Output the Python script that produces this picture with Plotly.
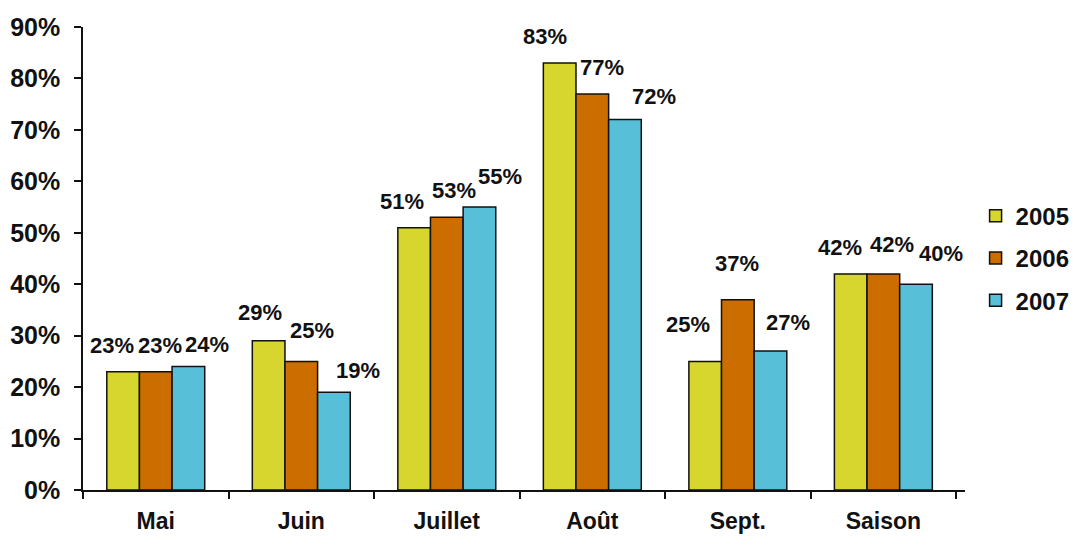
import plotly.graph_objects as go

categories = ["Mai", "Juin", "Juillet", "Août", "Sept.", "Saison"]
years = ["2005", "2006", "2007"]
v2005 = [23, 29, 51, 83, 25, 42]
v2006 = [23, 25, 53, 77, 37, 42]
v2007 = [24, 19, 55, 72, 27, 40]
y_ticks = [0, 10, 20, 30, 40, 50, 60, 70, 80, 90]

series = [v2005, v2006, v2007]
colors = ["#d6d62e", "#cc6d00", "#57bfd7"]

# manual label nudges (pixels) relative to each bar top-centre, per category & series
label_dx = [[-11, 4, 19], [-9, 11, 24], [-12, 7, 21], [-15, 10, 29], [-17, -1, 18], [-11, 9, 25]]
label_dy = [[26, 26, 22], [28, 31, 22], [26, 27, 31], [27, 26, 23], [37, 36, 29], [26, 29, 31]]

FONT = "Liberation Sans, Arial, Helvetica, sans-serif"
bargap = 0.327

fig = go.Figure()
for j, (yr, vals) in enumerate(zip(years, series)):
    fig.add_trace(go.Bar(
        x=categories, y=vals, name=yr, legendgroup=yr,
        marker=dict(color=colors[j], line=dict(color="#111111", width=1.5)),
        hoverinfo="x+y+name",
    ))

w = (1 - bargap) / 3
annotations = []
for i, cat in enumerate(categories):
    for j, vals in enumerate(series):
        annotations.append(dict(
            x=i + (j - 1) * w, y=vals[i], xref="x", yref="y",
            text=f"{vals[i]}%", showarrow=False,
            xshift=label_dx[i][j], yshift=label_dy[i][j],
            xanchor="center", yanchor="middle",
            font=dict(family=FONT, size=22, color="#111111", weight="bold"),
        ))

fig.update_layout(
    width=1076, height=538,
    margin=dict(l=83, r=111, t=27, b=48, autoexpand=False),
    paper_bgcolor="white", plot_bgcolor="white",
    barmode="group", bargap=bargap, bargroupgap=0,
    annotations=annotations,
    showlegend=True,
    legend=dict(
        x=1.012, y=0.64, xanchor="left", yanchor="top",
        font=dict(family=FONT, size=24, color="#111111", weight="bold"),
        traceorder="grouped", tracegroupgap=8,
        itemwidth=30, bgcolor="rgba(0,0,0,0)",
    ),
    xaxis=dict(
        type="category", showline=True, linecolor="#111111", linewidth=1.5,
        ticks="outside", tickson="boundaries", ticklen=7, tickcolor="#111111", tickwidth=1.5,
        tickfont=dict(family=FONT, size=23, color="#111111", weight="bold"),
        ticklabelstandoff=10, showgrid=False, zeroline=False, fixedrange=True,
        automargin=False,
    ),
    yaxis=dict(
        range=[0, 90], tickvals=y_ticks, ticktext=[f"{t}%" for t in y_ticks],
        showline=True, linecolor="#111111", linewidth=1.5,
        ticks="outside", ticklen=7, tickcolor="#111111", tickwidth=1.5,
        tickfont=dict(family=FONT, size=25, color="#111111", weight="bold"),
        ticklabelstandoff=9, showgrid=False, zeroline=False, fixedrange=True,
        automargin=False,
    ),
)

fig.write_html(
    "out.html",
    config={"displayModeBar": False},
    post_script="document.body.style.margin='0';document.body.style.overflow='hidden';",
)
